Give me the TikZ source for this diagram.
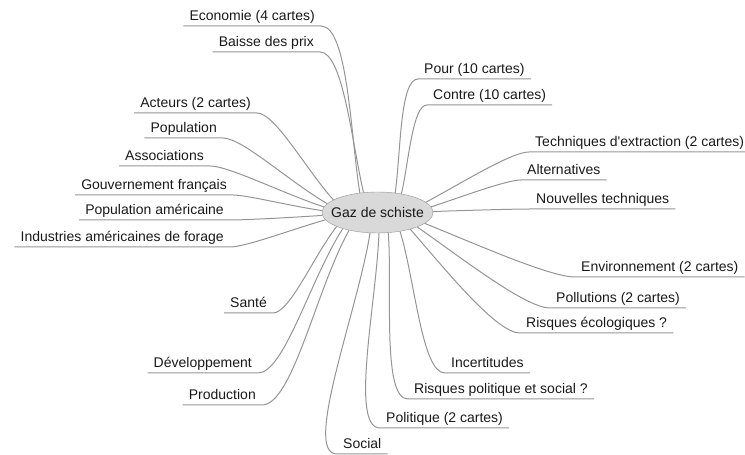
\documentclass[tikz,border=0pt]{standalone}
\usepackage{fontspec}
\setmainfont{Liberation Sans}
\usetikzlibrary{shapes.geometric}
\definecolor{trait}{HTML}{959595}
\definecolor{fond}{HTML}{D9D9D9}
\begin{document}
\begin{tikzpicture}[
        x=1pt, y=1pt,
        font=\fontsize{14}{16}\selectfont,
        centre/.style={shape=ellipse, draw=trait, fill=fond, minimum width=111pt, minimum height=41pt, inner sep=0pt, text=black!90},
        rubrique/.style={inner xsep=6pt, inner ysep=2pt, text height=10pt, text depth=3pt, text=black!90},
        gauche/.style={rubrique, anchor=south east},
        droite/.style={rubrique, anchor=south west},
        lien/.style={draw=trait, line width=1pt},
        courbe/.style={out looseness=0.9, in looseness=0.4},
    ]
    \useasboundingbox (0,0) rectangle (745,455);
    \node[centre] (gaz) at (377.5,242.5) {\makebox[0pt]{Gaz de schiste}};
    % branches a gauche
    \node[gauche] (eco) at (321,429) {Economie (4 cartes)};
    \node[gauche] (baisse) at (320,403) {Baisse des prix};
    \node[gauche] (acteurs) at (257,342) {Acteurs (2 cartes)};
    \node[gauche] (popu) at (223,317) {Population};
    \node[gauche] (assoc) at (210,289) {Associations};
    \node[gauche] (gouv) at (233,260) {Gouvernement français};
    \node[gauche] (popam) at (230,235) {Population américaine};
    \node[gauche] (indus) at (230,208) {Industries américaines de forage};
    \node[gauche] (sante) at (273,142) {Santé};
    \node[gauche] (dev) at (258,82) {Développement};
    \node[gauche] (prod) at (262,50) {Production};
    % branches a droite
    \node[droite] (pour) at (418,376) {Pour (10 cartes)};
    \node[droite] (contre) at (427,350) {Contre (10 cartes)};
    \node[droite] (tech) at (529,303) {Techniques d\textquotesingle extraction (2 cartes)};
    \node[droite] (alt) at (521,275) {Alternatives};
    \node[droite] (nouv) at (530,246) {Nouvelles techniques};
    \node[droite] (env) at (575,178) {Environnement (2 cartes)};
    \node[droite] (poll) at (550,147) {Pollutions (2 cartes)};
    \node[droite] (risqeco) at (520,122) {Risques écologiques ?};
    \node[droite] (incert) at (445,82) {Incertitudes};
    \node[droite] (risqpol) at (408,56) {Risques politique et social ?};
    \node[droite] (politique) at (380,27) {Politique (2 cartes)};
    \node[droite] (social) at (337,1) {Social};
    % liens
    \draw[lien] (gaz.132) to[courbe, out=99, in=0] (eco.south east) -- (eco.south west);
    \draw[lien] (gaz.125) to[courbe, out=103, in=0] (baisse.south east) -- (baisse.south west);
    \draw[lien] (gaz.164) to[courbe, out=132, in=0] (acteurs.south east) -- (acteurs.south west);
    \draw[lien] (gaz.170) to[courbe, out=150, in=0] (popu.south east) -- (popu.south west);
    \draw[lien] (gaz.174) to[courbe, out=162, in=0] (assoc.south east) -- (assoc.south west);
    \draw[lien] (gaz.178) to[courbe, out=172, in=0] (gouv.south east) -- (gouv.south west);
    \draw[lien] (gaz.183) to[courbe, out=184, in=0] (popam.south east) -- (popam.south west);
    \draw[lien] (gaz.188) to[courbe, out=196, in=0] (indus.south east) -- (indus.south west);
    \draw[lien] (gaz.199) to[courbe, out=232, in=0] (sante.south east) -- (sante.south west);
    \draw[lien] (gaz.205) to[courbe, out=237, in=0] (dev.south east) -- (dev.south west);
    \draw[lien] (gaz.212) to[courbe, out=241, in=0] (prod.south east) -- (prod.south west);
    \draw[lien] (gaz.48) to[courbe, out=82, in=180] (pour.south west) -- (pour.south east);
    \draw[lien] (gaz.38) to[courbe, out=77, in=180] (contre.south west) -- (contre.south east);
    \draw[lien] (gaz.12) to[courbe, out=28, in=180] (tech.south west) -- (tech.south east);
    \draw[lien] (gaz.6) to[courbe, out=18, in=180] (alt.south west) -- (alt.south east);
    \draw[lien] (gaz.1) to[courbe, out=2, in=180] (nouv.south west) -- (nouv.south east);
    \draw[lien] (gaz.347) to[courbe, out=338, in=180] (env.south west) -- (env.south east);
    \draw[lien] (gaz.340) to[courbe, out=325, in=180] (poll.south west) -- (poll.south east);
    \draw[lien] (gaz.333) to[courbe, out=311, in=180] (risqeco.south west) -- (risqeco.south east);
    \draw[lien] (gaz.320) to[courbe, out=287, in=180] (incert.south west) -- (incert.south east);
    \draw[lien] (gaz.298) to[courbe, out=274, in=180] (risqpol.south west) -- (risqpol.south east);
    \draw[lien] (gaz.274) to[courbe, out=268, in=180] (politique.south west) -- (politique.south east);
    \draw[lien] (gaz.250) to[courbe, out=261, in=180] (social.south west) -- (social.south east);
\end{tikzpicture}
\end{document}
